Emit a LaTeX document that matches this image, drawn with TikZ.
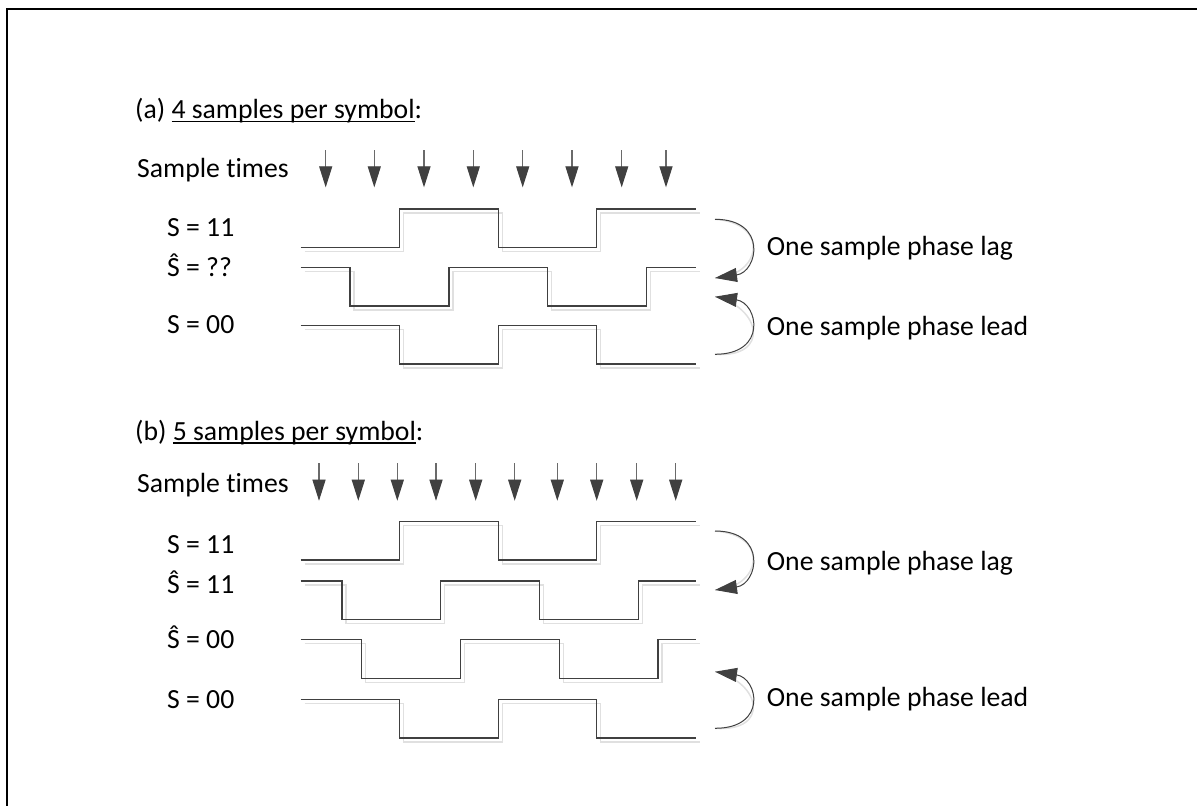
\documentclass[tikz,border=0pt]{standalone}
\usepackage{fontspec}
\setmainfont{Carlito}[RawFeature=-liga]
\usetikzlibrary{arrows.meta}
\definecolor{ink}{HTML}{404040}
\definecolor{shaft}{HTML}{6A6A6A}
\definecolor{shade}{HTML}{E0E0E0}
\newcommand\myul[1]{\setbox0\hbox{#1}\rlap{\rule[-3.6pt]{\wd0}{1.3pt}}\box0}
\tikzset{
  wave/.style={draw=ink, line width=1.1pt},
  waveshadow/.style={draw=shade, line width=1.5pt, shift={(4,4)}},
  lbl/.style={anchor=base west, inner sep=0pt, font=\fontsize{27.7}{33}\selectfont},
  samparrow/.style={draw=shaft, line width=1.1pt, -{Triangle[width=13pt,length=21pt,color=ink]}},
  sampshadow/.style={draw=shade, line width=1.4pt, -{Triangle[width=13pt,length=21pt,color=shade]}, shift={(5,4)}},
  phasearrow/.style={draw=ink, line width=1pt, -{Triangle[width=14pt,length=22pt,color=ink]}},
  phaseshadow/.style={draw=shade, line width=1.5pt, shift={(3,4)}},
}
\begin{document}
\begin{tikzpicture}[x=1pt,y=-1pt]
\useasboundingbox (0,0) rectangle (1197,806);
% frame
\draw[line width=2pt] (7.3,806) -- (7.3,9) -- (1197,9);

% ---------- titles ----------
\node[lbl] (titleA) at (135,118.5) {(a) \myul{4 samples per symbol}:};
\node[lbl] (titleB) at (135,440) {(b) \myul{5 samples per symbol}:};

\node[lbl] (stA) at (137,177.5) {Sample times};
\node[lbl] (stB) at (137,492) {Sample times};

% ---------- sample arrows (a) ----------
\foreach \x [count=\i] in {325.7,374.3,424,473.3,522.7,572,621.7,666}{
  \coordinate (sa\i t) at (\x,150);
  \coordinate (sa\i b) at (\x,187.3);
  \draw[sampshadow] (sa\i t) -- (sa\i b);
  \draw[samparrow] (sa\i t) -- (sa\i b);
}
% ---------- sample arrows (b) ----------
\foreach \x [count=\i] in {319,358.3,397.3,436,475.7,514.7,557.3,596.7,636.7,675.7}{
  \coordinate (sb\i t) at (\x,463.3);
  \coordinate (sb\i b) at (\x,500.7);
  \draw[sampshadow] (sb\i t) -- (sb\i b);
  \draw[samparrow] (sb\i t) -- (sb\i b);
}

% ---------- labels ----------
\node[lbl] (la1) at (167,236) {S = 11};
\node[lbl] (la2) at (167,276) {Ŝ = ??};
\node[lbl] (la3) at (167,333) {S = 00};
\node[lbl] (lb1) at (167,553) {S = 11};
\node[lbl] (lb2) at (167,593) {Ŝ = 11};
\node[lbl] (lb3) at (167,648) {Ŝ = 00};
\node[lbl] (lb4) at (167,708) {S = 00};

% ---------- waveforms (a) ----------
\def\wA{(300.7,247.3) -- (399.3,247.3) -- (399.3,209) -- (498.3,209) -- (498.3,247.3) -- (596.7,247.3) -- (596.7,209) -- (695.7,209)}
\def\wB{(300.7,267.3) -- (350,267.3) -- (350,306) -- (449,306) -- (449,267.3) -- (547.7,267.3) -- (547.7,306) -- (646.7,306) -- (646.7,267.3) -- (695.7,267.3)}
\def\wC{(300.7,325.3) -- (399.3,325.3) -- (399.3,364) -- (498.3,364) -- (498.3,325.3) -- (596.7,325.3) -- (596.7,364) -- (695.7,364)}
\foreach \w in {\wA,\wB,\wC}{\draw[waveshadow] \w; \draw[wave] \w;}

% ---------- waveforms (b) ----------
\def\wD{(300.7,560) -- (399.3,560) -- (399.3,521.7) -- (498.3,521.7) -- (498.3,560) -- (596.7,560) -- (596.7,521.7) -- (695.7,521.7)}
\def\wE{(300.7,581) -- (342,581) -- (342,619.7) -- (440.7,619.7) -- (440.7,581) -- (539.7,581) -- (539.7,619.7) -- (638.3,619.7) -- (638.3,581) -- (695.7,581)}
\def\wF{(300.7,639.7) -- (361.7,639.7) -- (361.7,678.3) -- (460.3,678.3) -- (460.3,639.7) -- (559.3,639.7) -- (559.3,678.3) -- (658,678.3) -- (658,639.7) -- (695.7,639.7)}
\def\wG{(300.7,699.7) -- (399.3,699.7) -- (399.3,738) -- (498.3,738) -- (498.3,699.7) -- (596.7,699.7) -- (596.7,738) -- (695.7,738)}
\foreach \w in {\wD,\wE,\wF,\wG}{\draw[waveshadow] \w; \draw[wave] \w;}

% ---------- phase arrows ----------
\coordinate (lagAs) at (715,219.3);  \coordinate (lagAe) at (715,278);
\coordinate (leadAs) at (715,354.3); \coordinate (leadAe) at (715,296.7);
\coordinate (lagBs) at (715,531);    \coordinate (lagBe) at (715,590);
\coordinate (leadBs) at (715,728.3); \coordinate (leadBe) at (715,671.7);

\draw[phaseshadow] (lagAs) .. controls (768,219.3) and (758,272) .. (lagAe);
\draw[phasearrow] (lagAs) .. controls (768,219.3) and (758,272) .. (lagAe);
\draw[phaseshadow] (leadAs) .. controls (768,354.3) and (758,303) .. (leadAe);
\draw[phasearrow] (leadAs) .. controls (768,354.3) and (758,303) .. (leadAe);
\draw[phaseshadow] (lagBs) .. controls (768,531) and (758,584) .. (lagBe);
\draw[phasearrow] (lagBs) .. controls (768,531) and (758,584) .. (lagBe);
\draw[phaseshadow] (leadBs) .. controls (768,728.3) and (758,678) .. (leadBe);
\draw[phasearrow] (leadBs) .. controls (768,728.3) and (758,678) .. (leadBe);

\node[lbl] (tlagA) at (766.7,255) {One sample phase lag};
\node[lbl] (tleadA) at (766.7,335) {One sample phase lead};
\node[lbl] (tlagB) at (766.7,570) {One sample phase lag};
\node[lbl] (tleadB) at (766.7,706.7) {One sample phase lead};
\end{tikzpicture}
\end{document}
